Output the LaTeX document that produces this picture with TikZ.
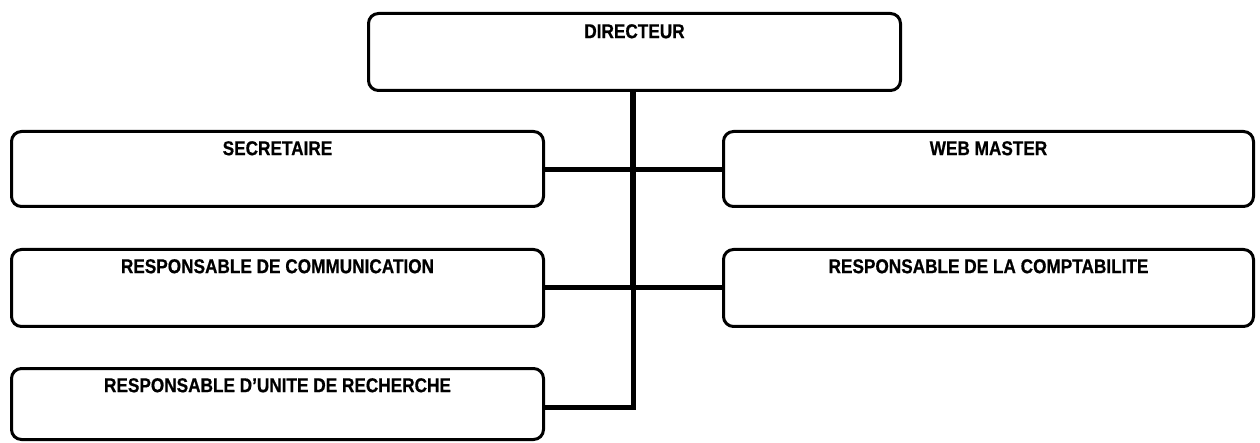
\documentclass[tikz,border=0pt]{standalone}
\usepackage{fontspec}
\setmainfont{Liberation Sans}[FakeStretch=0.86, BoldFeatures={FakeBold=0.6}]
\begin{document}
\begin{tikzpicture}[x=1pt,y=-1pt,
  post/.style={draw=black, line width=3pt, rounded corners=10pt, rectangle,
    minimum width=532pt, minimum height=77pt, inner sep=0pt, fill=white},
  lbl/.style={anchor=north, inner sep=0pt, font=\fontsize{20}{20}\selectfont\bfseries},
  link/.style={draw=black, line width=5pt},
  trunk/.style={draw=black, line width=6pt}]
\useasboundingbox (0,0) rectangle (1260,443);
\fill[white] (0,0) rectangle (1260,443);
\coordinate (j1) at (633,169.5);
\coordinate (j2) at (633,288);
\coordinate (j3) at (633,407);
\node[post] (dir) at (634.5,52) {};
\node[post] (sec) at (277.5,169) [minimum height=75pt] {};
\node[post] (web) at (988.5,169) [minimum width=530pt, minimum height=75pt] {};
\node[post] (com) at (277.5,288) {};
\node[post] (cpt) at (988.5,288) [minimum width=530pt] {};
\node[post] (rch) at (277.5,404) [minimum height=71pt] {};
\draw[trunk] (dir.south -| j1) -- (j2);
\draw[link] (j2) -- ([yshift=-2.5pt]j3);
\draw[link] (j1 -| sec.east) -- (j1 -| web.west);
\draw[link] (j2 -| com.east) -- (j2 -| cpt.west);
\draw[link] (j3 -| rch.east) -- ([xshift=2.5pt]j3);
\node[lbl] (tdir) at ([yshift=-12pt]dir.north) {DIRECTEUR};
\node[lbl] (tsec) at ([yshift=-11pt]sec.north) {SECRETAIRE};
\node[lbl] (tweb) at ([yshift=-11pt]web.north) {WEB MASTER};
\node[lbl] (tcom) at ([yshift=-11pt]com.north) {RESPONSABLE DE COMMUNICATION};
\node[lbl] (tcpt) at ([yshift=-11pt]cpt.north) {RESPONSABLE DE LA COMPTABILITE};
\node[lbl] (trch) at ([yshift=-11pt]rch.north) {RESPONSABLE D’UNITE DE RECHERCHE};
\end{tikzpicture}
\end{document}
